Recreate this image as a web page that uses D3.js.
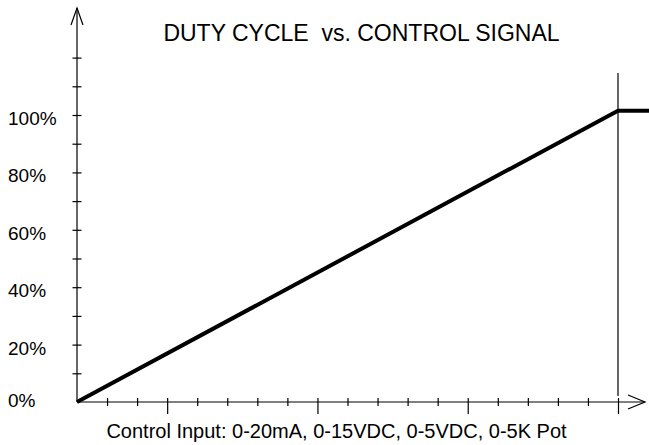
<!DOCTYPE html>
<html><head><meta charset="utf-8">
<script src="https://cdn.jsdelivr.net/npm/d3@7"></script>
<style>
html,body{margin:0;padding:0;background:#fff;}
svg{display:block;font-family:"Liberation Sans",Arial,sans-serif;}
</style></head>
<body>
<svg id="c" width="649" height="445"></svg>
<script>
// ---- data ----
const titleText = "DUTY CYCLE  vs. CONTROL SIGNAL";
const xAxisLabel = "Control Input: 0-20mA, 0-15VDC, 0-5VDC, 0-5K Pot";
// control signal in tick divisions (18 divisions = full scale), duty cycle in %
const controlDiv = [0, 18, 19.05];
const dutyPct    = [0, 101.5, 101.5];
const yTickValues = [10,20,30,40,50,60,70,80,90,100,110,120];
const yTickLabels = ["0%","20%","40%","60%","80%","100%"];
const yLabelValues = [0,20,40,60,80,100];
const xMinorTicks = [1,2,4,5,6,7,9,10,11,12,14,15,16,17];
const xMajorTicks = [3,8,13,18];
const fullScaleDiv = 18;

const svg = d3.select("#c");
const x = d3.scaleLinear().domain([0, 18]).range([77, 618]);
const y = d3.scaleLinear().domain([0, 100]).range([402, 115]);

// axes lines with open arrows
const g = svg.append("g").attr("stroke","#000").attr("fill","none").attr("stroke-width",1.2);
g.append("line").attr("x1",x(0)).attr("x2",x(0)).attr("y1",y(0)).attr("y2",8);
g.append("path").attr("d",`M${x(0)-6},25 L${x(0)},8 L${x(0)+6},25`);
g.append("line").attr("x1",x(0)).attr("x2",645).attr("y1",y(0)).attr("y2",y(0));
g.append("path").attr("d",`M628,${y(0)-7} L645,${y(0)} L628,${y(0)+7}`);

// y ticks
const yAxis = d3.axisLeft(y).tickValues(yTickValues).tickSizeInner(4.5).tickSizeOuter(0).tickFormat("");
const ya = svg.append("g").attr("transform",`translate(${x(0)},0)`).call(yAxis);
ya.select(".domain").remove();
ya.selectAll(".tick line").attr("x2",4.5).attr("x1",-4.5).attr("stroke","#000").attr("stroke-width",1.2);

// x minor ticks
const xa = svg.append("g").attr("transform",`translate(0,${y(0)})`).call(
  d3.axisBottom(x).tickValues(xMinorTicks).tickSizeInner(4).tickSizeOuter(0).tickFormat(""));
xa.select(".domain").remove();
xa.selectAll(".tick line").attr("y1",-4).attr("y2",4).attr("stroke","#000").attr("stroke-width",1.2);
// x major ticks
const xb = svg.append("g").attr("transform",`translate(0,${y(0)})`).call(
  d3.axisBottom(x).tickValues(xMajorTicks).tickSizeInner(12).tickSizeOuter(0).tickFormat(""));
xb.select(".domain").remove();
xb.selectAll(".tick line").attr("y1",-4).attr("y2",12).attr("stroke","#000").attr("stroke-width",1.2);

// full-scale vertical line
svg.append("line").attr("x1",x(fullScaleDiv)).attr("x2",x(fullScaleDiv))
  .attr("y1",73).attr("y2",y(0)-6).attr("stroke","#000").attr("stroke-width",1.2);

// y labels
svg.append("g").selectAll("text").data(yLabelValues).join("text")
  .attr("x",8).attr("y",(d,i)=> d===0 ? y(d)+5 : y(d)+10)
  .attr("font-size",19).attr("fill","#000")
  .text((d,i)=>yTickLabels[i]);

// data line
const line = d3.line().x((d,i)=>x(controlDiv[i])).y((d,i)=>y(dutyPct[i]));
svg.append("path").datum(controlDiv).attr("d",line)
  .attr("fill","none").attr("stroke","#000").attr("stroke-width",4).attr("stroke-linejoin","miter");

// title
svg.append("text").attr("x",361.5).attr("y",41).attr("text-anchor","middle")
  .attr("font-size",23).attr("fill","#000").style("white-space","pre").text(titleText);
// x label
svg.append("text").attr("x",336.5).attr("y",438).attr("text-anchor","middle")
  .attr("font-size",20).attr("fill","#000").text(xAxisLabel);
</script>
</body></html>
